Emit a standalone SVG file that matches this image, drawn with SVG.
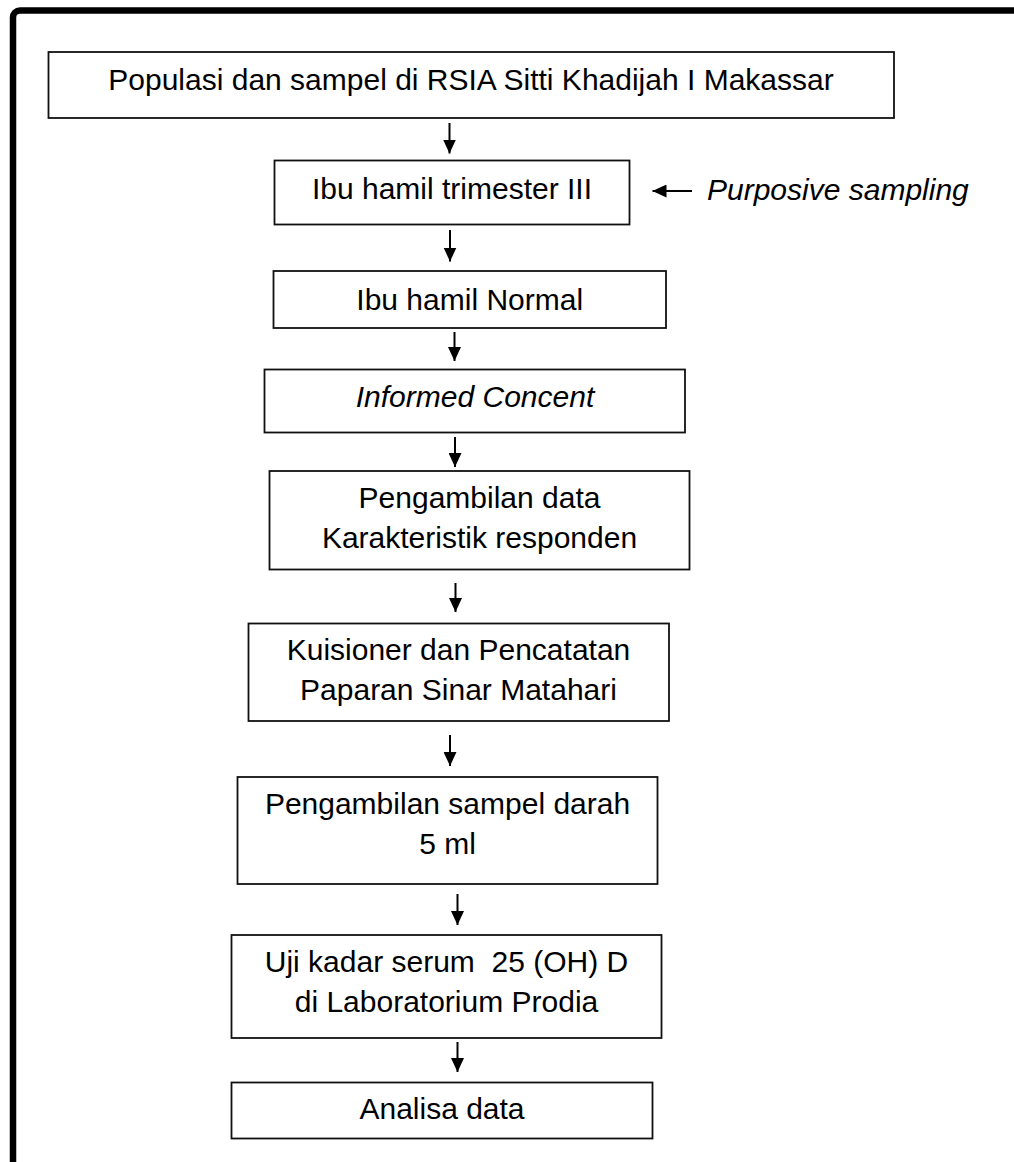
<svg xmlns="http://www.w3.org/2000/svg" width="1014" height="1162" viewBox="0 0 1014 1162">
<style>
.box{fill:#fff;stroke:#111;stroke-width:1.8}
.t{font-family:"Liberation Sans",Arial,sans-serif;font-size:30px;fill:#000;text-anchor:middle}
.it{font-style:italic}
.c{stroke:#000;stroke-width:2;fill:none}
</style>
<defs>
<marker id="ah" markerUnits="userSpaceOnUse" markerWidth="14" markerHeight="13" refX="14" refY="6.5" orient="auto">
<path d="M0,0 L14,6.5 L0,13 z" fill="#000"/>
</marker>
</defs>
<rect width="1014" height="1162" fill="#fff"/>
<rect id="frame" x="13" y="10.5" width="1040" height="1200" rx="7" fill="none" stroke="#000" stroke-width="6.5"/>
<g id="connectors">
<line class="c" x1="449.5" y1="123" x2="449.5" y2="153.5" marker-end="url(#ah)"/>
<line class="c" x1="450" y1="230" x2="450" y2="261.5" marker-end="url(#ah)"/>
<line class="c" x1="454.5" y1="332" x2="454.5" y2="361" marker-end="url(#ah)"/>
<line class="c" x1="455" y1="437" x2="455" y2="467" marker-end="url(#ah)"/>
<line class="c" x1="455.5" y1="583" x2="455.5" y2="612" marker-end="url(#ah)"/>
<line class="c" x1="450" y1="735" x2="450" y2="766" marker-end="url(#ah)"/>
<line class="c" x1="457.5" y1="894" x2="457.5" y2="925" marker-end="url(#ah)"/>
<line class="c" x1="457.5" y1="1042" x2="457.5" y2="1072" marker-end="url(#ah)"/>
<line class="c" x1="692" y1="191" x2="652.5" y2="191" marker-end="url(#ah)"/>
</g>
<g id="n1"><rect class="box" x="48.5" y="52" width="845.5" height="66"/><text class="t" x="471" y="90">Populasi dan sampel di RSIA Sitti Khadijah I Makassar</text></g>
<g id="n2"><rect class="box" x="274.5" y="160.5" width="355" height="64"/><text class="t" x="452" y="199">Ibu hamil trimester III</text></g>
<g id="lbl"><text class="t it" x="707" y="199.5" style="text-anchor:start">Purposive sampling</text></g>
<g id="n3"><rect class="box" x="273.5" y="271" width="392.5" height="57"/><text class="t" x="469.7" y="310">Ibu hamil Normal</text></g>
<g id="n4"><rect class="box" x="264.5" y="369.5" width="420.5" height="63"/><text class="t it" x="475" y="406.7">Informed Concent</text></g>
<g id="n5"><rect class="box" x="269.5" y="471" width="420" height="98.5"/><text class="t" x="479.5" y="508.3">Pengambilan data<tspan x="479.5" y="548.3">Karakteristik responden</tspan></text></g>
<g id="n6"><rect class="box" x="248.5" y="623.5" width="420.5" height="97.5"/><text class="t" x="458.5" y="660">Kuisioner dan Pencatatan<tspan x="458.5" y="700">Paparan Sinar Matahari</tspan></text></g>
<g id="n7"><rect class="box" x="237.5" y="777" width="420" height="107"/><text class="t" x="447.5" y="814">Pengambilan sampel darah<tspan x="447.5" y="854.3">5 ml</tspan></text></g>
<g id="n8"><rect class="box" x="231.5" y="935" width="430" height="103"/><text class="t" x="446.5" y="971.7" xml:space="preserve">Uji kadar serum  25 (OH) D<tspan x="446.5" y="1011.7">di Laboratorium Prodia</tspan></text></g>
<g id="n9"><rect class="box" x="231.5" y="1082.5" width="421" height="56"/><text class="t" x="442" y="1119.3">Analisa data</text></g>
</svg>
